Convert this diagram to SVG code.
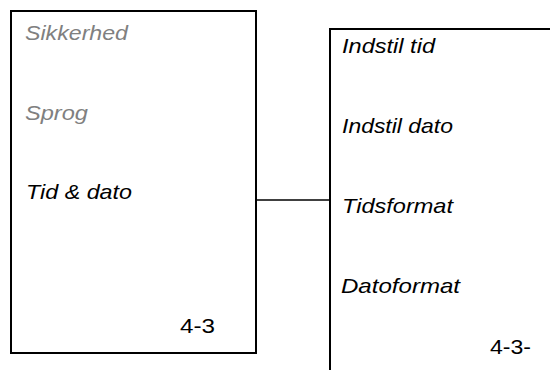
<svg xmlns="http://www.w3.org/2000/svg" width="550" height="370" viewBox="0 0 550 370">
<style>
.box{fill:none;stroke:#000;stroke-width:2}
.t{font-family:"Liberation Sans",Arial,sans-serif;font-size:21px;font-style:italic;fill:#000}
.g{fill:#808080}
.n{font-family:"Liberation Sans",Arial,sans-serif;font-size:21px;fill:#000}
</style>
<rect width="550" height="370" fill="#fff"/>
<g id="node-left">
<rect class="box" x="11" y="11" width="245" height="342"/>
<text class="t g" x="25" y="40" textLength="103" lengthAdjust="spacingAndGlyphs">Sikkerhed</text>
<text class="t g" x="25" y="120" textLength="63" lengthAdjust="spacingAndGlyphs">Sprog</text>
<text class="t" x="26" y="199" textLength="106" lengthAdjust="spacingAndGlyphs">Tid &amp; dato</text>
<text class="n" x="180" y="333" textLength="35" lengthAdjust="spacingAndGlyphs">4-3</text>
</g>
<g id="node-right">
<path class="box" d="M330,371 V29 H551"/>
<text class="t" x="342" y="53" textLength="93" lengthAdjust="spacingAndGlyphs">Indstil tid</text>
<text class="t" x="342" y="133" textLength="111" lengthAdjust="spacingAndGlyphs">Indstil dato</text>
<text class="t" x="342" y="213" textLength="111" lengthAdjust="spacingAndGlyphs">Tidsformat</text>
<text class="t" x="341" y="293" textLength="119" lengthAdjust="spacingAndGlyphs">Datoformat</text>
<text class="n" x="490" y="354" textLength="41" lengthAdjust="spacingAndGlyphs">4-3-</text>
</g>
<g id="connectors">
<line x1="257" y1="200" x2="329" y2="200" stroke="#000" stroke-width="1.6"/>
</g>
</svg>
